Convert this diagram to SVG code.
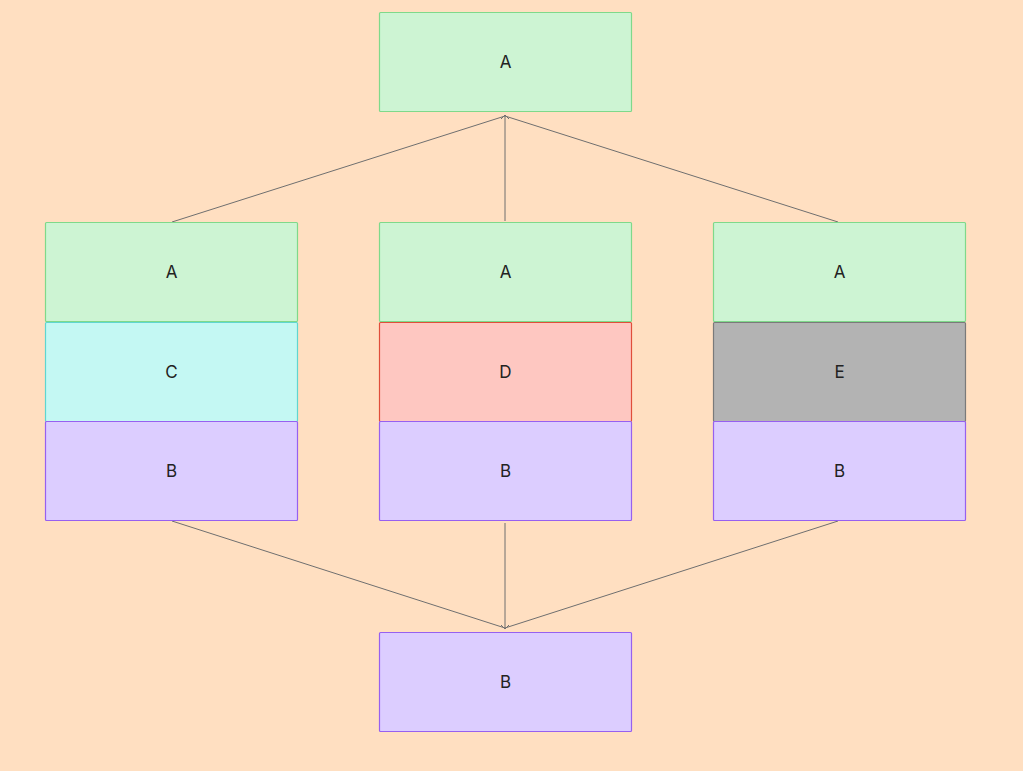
<svg xmlns="http://www.w3.org/2000/svg" width="1023" height="771" viewBox="0 0 1023 771">
<style>
.n rect{stroke-width:1.2}
.g{fill:#cdf4d3;stroke:#7fd98a}
.c{fill:#c4f8f3;stroke:#5fd6d0}
.d{fill:#fec7c1;stroke:#e04e3a}
.e{fill:#b3b3b3;stroke:#7a7a7a}
.b{fill:#dccdff;stroke:#9760f0}
text{font-family:Inter,"Liberation Sans",sans-serif;font-size:17px;fill:#222;text-anchor:middle;dominant-baseline:central}
.l{stroke:#6f6f6f;stroke-width:1;fill:none}
</style>
<rect width="1023" height="771" fill="#ffdfc1"/>
<g id="connectors">
<path class="l" d="M505,116 L172,222"/>
<path class="l" d="M505,116 L505,221"/>
<path class="l" d="M505,116 L838,222"/>
<path class="l" d="M172,521 L505,628"/>
<path class="l" d="M505,523 L505,628"/>
<path class="l" d="M838,521 L505,628"/>
<path d="M501,119 L505,115 L509,119" fill="none" stroke="#6f6f6f"/>
<path d="M501,625 L505,629 L509,625" fill="none" stroke="#6f6f6f"/>
</g>
<g id="top" class="n"><rect class="g" x="379.5" y="12.5" width="252" height="99" rx="1"/><text x="505.5" y="62">A</text></g>
<g id="a1" class="n"><rect class="g" x="45.5" y="222.5" width="252" height="99" rx="1"/><text x="171.5" y="272">A</text></g>
<g id="c1" class="n"><rect class="c" x="45.5" y="322.5" width="252" height="99" rx="1"/><text x="171.5" y="372">C</text></g>
<g id="b1" class="n"><rect class="b" x="45.5" y="421.5" width="252" height="99" rx="1"/><text x="171.5" y="471">B</text></g>
<g id="a2" class="n"><rect class="g" x="379.5" y="222.5" width="252" height="99" rx="1"/><text x="505.5" y="272">A</text></g>
<g id="d2" class="n"><rect class="d" x="379.5" y="322.5" width="252" height="99" rx="1"/><text x="505.5" y="372">D</text></g>
<g id="b2" class="n"><rect class="b" x="379.5" y="421.5" width="252" height="99" rx="1"/><text x="505.5" y="471">B</text></g>
<g id="a3" class="n"><rect class="g" x="713.5" y="222.5" width="252" height="99" rx="1"/><text x="839.5" y="272">A</text></g>
<g id="e3" class="n"><rect class="e" x="713.5" y="322.5" width="252" height="99" rx="1"/><text x="839.5" y="372">E</text></g>
<g id="b3" class="n"><rect class="b" x="713.5" y="421.5" width="252" height="99" rx="1"/><text x="839.5" y="471">B</text></g>
<g id="bottom" class="n"><rect class="b" x="379.5" y="632.5" width="252" height="99" rx="1"/><text x="505.5" y="682">B</text></g>
</svg>
